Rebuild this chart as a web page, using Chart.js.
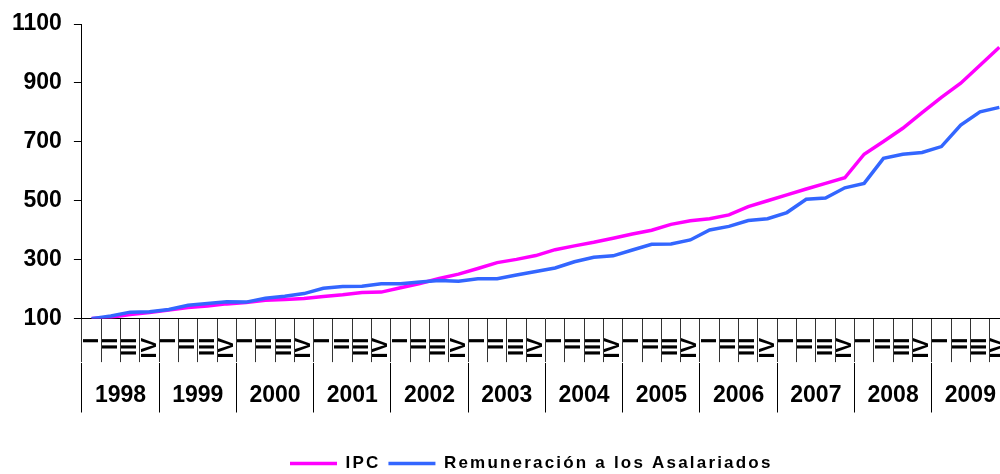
<!DOCTYPE html>
<html>
<head>
<meta charset="utf-8">
<script src="https://cdn.jsdelivr.net/npm/chart.js@4.4.1/dist/chart.umd.min.js"></script>
<style>
  html, body { margin: 0; padding: 0; background: #fff; overflow: hidden; }
  canvas { display: block; }
</style>
</head>
<body>
<canvas id="grafico" width="1009" height="482"></canvas>
<script>
// Datos (índice, base 1998-I = 100)
const anios = ['1998', '1999', '2000', '2001', '2002', '2003', '2004', '2005', '2006', '2007', '2008', '2009'];
const trimestres = ['I', 'II', 'III', 'IV'];
const ipc = [100, 105, 114, 121, 129, 138, 143, 150, 155, 162, 165, 168,
             175, 181, 189, 190, 205, 219, 236, 251, 270, 290, 301, 314,
             334, 347, 359, 373, 387, 400, 420, 432, 439, 452, 480, 500,
             520, 540, 559, 578, 658, 701, 746, 799, 851, 899, 960, 1021];
const remuneracion = [100, 109, 122, 123, 131, 145, 151, 157, 156, 169, 176, 185,
                      203, 209, 210, 218, 218, 224, 229, 227, 235, 235, 248, 260,
                      272, 293, 308, 313, 333, 352, 353, 367, 401, 413, 433, 439,
                      460, 505, 509, 544, 559, 644, 658, 664, 684, 757, 802, 817];
const ticksY = [100, 300, 500, 700, 900, 1100];

const etiquetas = anios.flatMap(() => trimestres);
const fuente = '"Liberation Sans", Arial, Helvetica, sans-serif';

// la leyenda de Excel tiene las letras separadas y está corrida a la derecha
const ajusteLeyenda = {
    id: 'ajusteLeyenda',
    afterInit(chart) {
        const lg = chart.legend;
        const fit = lg.fit.bind(lg);
        const draw = lg.draw.bind(lg);
        lg.fit = () => {
            const c = chart.ctx;
            c.save(); c.letterSpacing = '2.2px'; fit(); c.restore();
        };
        lg.draw = () => {
            const c = chart.ctx;
            c.save();
            c.letterSpacing = '2.2px';
            c.translate(290 - (lg.left + lg.options.labels.padding), 0);
            draw();
            c.restore();
        };
    }
};

// título vacío: sólo da alto a la caja del eje para que no se recorten las etiquetas
const hueco = (abajo) => ({ display: true, text: '', padding: { top: 0, bottom: abajo } });

new Chart(document.getElementById('grafico'), {
    type: 'line',
    data: {
        labels: etiquetas,
        datasets: [
            {
                label: 'IPC',
                data: ipc,
                borderColor: '#FF00FF',
                backgroundColor: '#FF00FF',
                borderWidth: 3.5,
                pointRadius: 0,
                tension: 0,
                order: 1
            },
            {
                label: 'Remuneración a los Asalariados',
                data: remuneracion,
                borderColor: '#3366FF',
                backgroundColor: '#3366FF',
                borderWidth: 3.5,
                pointRadius: 0,
                tension: 0,
                order: 0
            }
        ]
    },
    options: {
        responsive: false,
        animation: false,
        events: [],
        layout: { padding: { top: 24, left: 0, right: 0, bottom: 0 } },
        scales: {
            x: {
                type: 'category',
                position: 'bottom',
                weight: 0,
                offset: true,
                title: hueco(14),
                grid: { drawOnChartArea: false, offset: true, tickLength: 43.5, color: '#333', lineWidth: 1 },
                border: { display: true, color: '#000', width: 1 },
                ticks: {
                    autoSkip: false, minRotation: 90, maxRotation: 90, padding: -24.4,
                    color: '#000', font: { family: fuente, size: 22, weight: 'bold' }
                }
            },
            x2: {
                type: 'category',
                position: 'bottom',
                weight: 1,
                labels: anios,
                offset: true,
                title: hueco(20.6),
                grid: { drawOnChartArea: false, offset: true, tickLength: 50, color: '#000', lineWidth: 1 },
                border: { display: false },
                ticks: {
                    autoSkip: false, maxRotation: 0, padding: -30.8,
                    color: '#000', font: { family: fuente, size: 23, weight: 'bold' }
                }
            },
            y: {
                min: ticksY[0],
                max: ticksY[ticksY.length - 1],
                afterBuildTicks: axis => { axis.ticks = ticksY.map(v => ({ value: v })); },
                grid: { drawOnChartArea: false, tickLength: 8, color: '#000' },
                border: { display: true, color: '#000', width: 1 },
                ticks: {
                    padding: 12,
                    color: '#000',
                    callback: v => String(v),
                    font: { family: fuente, size: 23, weight: 'bold', lineHeight: 1 }
                }
            }
        },
        plugins: {
            legend: {
                position: 'bottom',
                align: 'start',
                title: hueco(19.1),
                labels: {
                    usePointStyle: true,
                    pointStyle: 'line',
                    pointStyleWidth: 47,
                    padding: 8,
                    color: '#000',
                    sort: (a, b) => a.datasetIndex - b.datasetIndex,
                    font: { family: fuente, size: 17, weight: 'bold' }
                }
            },
            tooltip: { enabled: false }
        }
    },
    plugins: [ajusteLeyenda]
});
</script>
</body>
</html>
